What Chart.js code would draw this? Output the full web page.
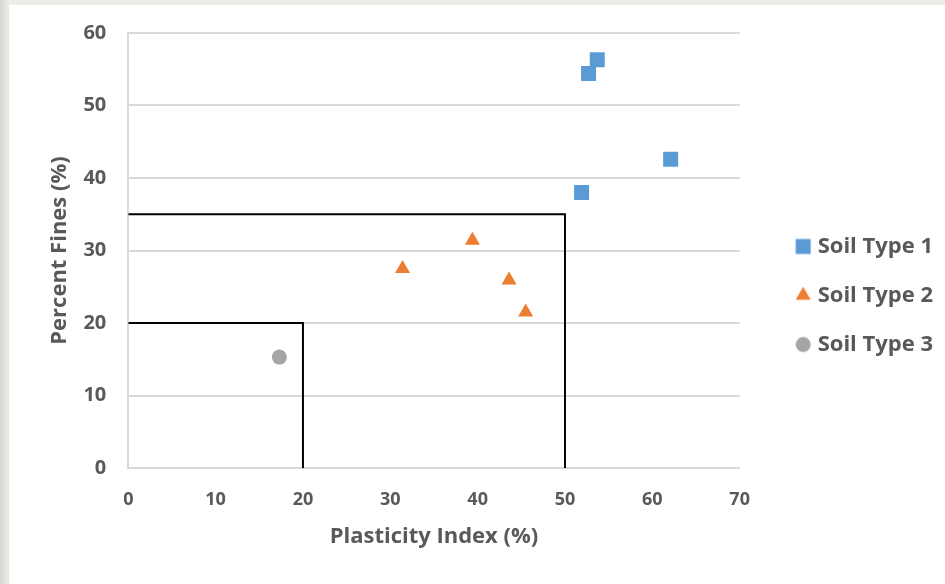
<!DOCTYPE html>
<html>
<head>
<meta charset="utf-8">
<script src="https://cdn.jsdelivr.net/npm/chart.js@4/dist/chart.umd.min.js"></script>
<style>
  html, body { margin: 0; padding: 0; }
  body { width: 945px; height: 584px; background: linear-gradient(90deg, #d4d6d2, #eceeea 10px); overflow: hidden; position: relative; }
  #wrap { position: absolute; left: 9px; top: 5px; width: 936px; height: 579px; background: #fff; }
</style>
</head>
<body>
<div id="wrap"><canvas id="chart" width="936" height="579"></canvas></div>
<script>
'use strict';

// values
var soilType1 = [
  { x: 53.7, y: 56.3 },
  { x: 52.7, y: 54.4 },
  { x: 62.1, y: 42.6 },
  { x: 51.9, y: 38.0 }
];
var soilType2 = [
  { x: 31.4, y: 27.5 },
  { x: 39.4, y: 31.4 },
  { x: 43.6, y: 25.9 },
  { x: 45.5, y: 21.5 }
];
var soilType3 = [
  { x: 17.3, y: 15.3 }
];
// boundary boxes
var boxOuter = [{ x: 0, y: 35 }, { x: 50, y: 35 }, { x: 50, y: 0 }];
var boxInner = [{ x: 0, y: 20 }, { x: 20, y: 20 }, { x: 20, y: 0 }];

var seriesNames = ['Soil Type 1', 'Soil Type 2', 'Soil Type 3'];
var xTitle = 'Plasticity Index (%)';
var yTitle = 'Percent Fines (%)';

var textColor = '#595959';
var gridColor = '#d9d9d9';
var fontFamily = '"Open Sans", "Noto Sans", sans-serif';

var markers = [
  { style: 'rect', radius: 10.6, color: '#5b9bd5' },
  { style: 'triangle', radius: 8.7, color: '#ed7d31' },
  { style: 'circle', radius: 7.5, color: '#a5a5a5' }
];

// small canvas with the same marker, used as legend symbol
function legendIcon(m) {
  var c = document.createElement('canvas');
  c.width = 18;
  c.height = 18;
  var g = c.getContext('2d');
  g.fillStyle = m.color;
  g.strokeStyle = m.color;
  g.lineWidth = 0;
  if (Chart.helpers && Chart.helpers.drawPoint) {
    Chart.helpers.drawPoint(g, { pointStyle: m.style, radius: m.radius, rotation: 0, borderWidth: 0 }, 9, 9);
  } else {
    g.beginPath();
    g.arc(9, 9, 7.5, 0, Math.PI * 2);
    g.fill();
  }
  return c;
}

function scatterSet(i, points) {
  return {
    label: seriesNames[i],
    data: points,
    pointStyle: markers[i].style,
    pointRadius: markers[i].radius,
    pointHoverRadius: markers[i].radius,
    backgroundColor: markers[i].color,
    borderColor: markers[i].color,
    borderWidth: 0
  };
}

function boxLine(points) {
  return {
    label: '',
    data: points,
    showLine: true,
    borderColor: '#000',
    borderWidth: 2,
    pointRadius: 0,
    pointHoverRadius: 0,
    fill: false
  };
}

var icons = markers.map(legendIcon);

var ctx = document.getElementById('chart').getContext('2d');
new Chart(ctx, {
  type: 'scatter',
  data: {
    datasets: [
      scatterSet(0, soilType1),
      scatterSet(1, soilType2),
      scatterSet(2, soilType3),
      boxLine(boxOuter),
      boxLine(boxInner)
    ]
  },
  options: {
    responsive: false,
    animation: false,
    layout: { padding: { left: 38, top: 8, right: 2, bottom: 6 } },
    plugins: {
      tooltip: { enabled: false },
      legend: {
        position: 'right',
        maxWidth: 400,
        labels: {
          usePointStyle: true,
          boxWidth: 7,
          boxHeight: 15,
          color: textColor,
          padding: 27,
          font: { family: fontFamily, size: 22, weight: 'bold' },
          generateLabels: function (chart) {
            var items = Chart.defaults.plugins.legend.labels.generateLabels(chart);
            return items.filter(function (it) { return it.text !== ''; }).map(function (it) {
              it.pointStyle = icons[it.datasetIndex];
              return it;
            });
          }
        }
      }
    },
    scales: {
      x: {
        type: 'linear',
        min: 0,
        max: 70,
        ticks: { stepSize: 10, color: textColor, padding: 21, font: { family: fontFamily, size: 18, weight: 'bold' } },
        grid: { display: false, drawTicks: false },
        border: { color: gridColor, width: 2 },
        title: { display: true, text: xTitle, color: textColor, padding: { top: -8, bottom: 28 }, font: { family: fontFamily, size: 22, weight: 'bold' } }
      },
      y: {
        min: 0,
        max: 60,
        ticks: { stepSize: 10, color: textColor, padding: 22, font: { family: fontFamily, size: 20, weight: 'bold' } },
        grid: { color: gridColor, lineWidth: 2, drawTicks: false },
        border: { color: gridColor, width: 2 },
        title: { display: true, text: yTitle, color: textColor, padding: { top: 0, bottom: -12 }, font: { family: fontFamily, size: 22, weight: 'bold' } },
        // plot top sits closer to the canvas edge than the label overhang
        afterFit: function (scale) { scale.paddingTop = 28; }
      },
      // empty axis that keeps the gap between plot and legend
      yGap: {
        position: 'right',
        display: true,
        grid: { display: false },
        ticks: { display: false },
        border: { display: false },
        afterFit: function (scale) { scale.width = 33; }
      }
    }
  }
});
</script>
</body>
</html>
